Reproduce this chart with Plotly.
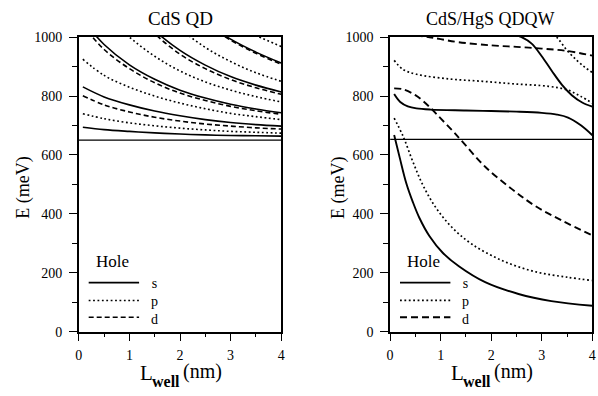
import plotly.graph_objects as go

W, H = 598, 396
FONT = "Liberation Serif"

# ---------------- data: CdS QD (left panel) ----------------
qd_x = [0.08, 0.5, 1.0, 1.5, 2.0, 2.5, 3.0, 3.5, 4.0]
qd_s1 = [694, 686, 680, 675, 671, 668, 666, 665, 664]
qd_p1 = [740, 723, 709, 699, 691, 685, 680, 677, 674]
qd_d1 = [801, 770, 746, 728, 715, 705, 698, 692, 688]
qd_s2 = [831, 797, 770, 749, 733, 720, 710, 703, 698]
qd_p2 = [925, 870, 830, 800, 776, 757, 741, 730, 720]
qd_d2 = [1040, 958, 893, 845, 810, 785, 765, 750, 738]
qd_s3 = [1058, 975, 906, 857, 820, 793, 772, 756, 743]
qd_p3_x = [0.5, 1.0, 1.5, 2.0, 2.5, 3.0, 3.5, 4.0]
qd_p3 = [1080, 1000, 935, 885, 848, 820, 798, 780]
qd_d3_x = [1.0, 1.5, 2.0, 2.5, 3.0, 3.5, 4.0]
qd_d3 = [1105, 1012, 942, 893, 856, 828, 806]
qd_s4_x = [1.0, 1.5, 2.0, 2.5, 3.0, 3.5, 4.0]
qd_s4 = [1111, 1022, 955, 905, 866, 837, 814]
qd_p4_x = [1.5, 2.0, 2.5, 3.0, 3.5, 4.0]
qd_p4 = [1120, 1030, 965, 917, 879, 850]
qd_d4_x = [2.0, 2.5, 3.0, 3.5, 4.0]
qd_d4 = [1115, 1045, 990, 945, 908]
qd_s5_x = [2.0, 2.5, 3.0, 3.5, 4.0]
qd_s5 = [1116, 1048, 993, 949, 912]
qd_p5_x = [2.5, 3.0, 3.5, 4.0]
qd_p5 = [1100, 1050, 1006, 968]
qd_edge_x = [0, 4]
qd_edge = [650, 650]

# ---------------- data: CdS/HgS QDQW (right panel) ----------------
qw_s1_x = [0.08, 0.19, 0.32, 0.45, 0.58, 0.78, 1.04, 1.36, 1.88, 2.54, 3.19, 4.0]
qw_s1 = [668, 591, 504, 440, 386, 324, 268, 222, 168, 128, 104, 88]
qw_p1_x = [0.08, 0.26, 0.45, 0.65, 0.91, 1.23, 1.62, 2.21, 2.86, 3.5, 4.0]
qw_p1 = [725, 662, 577, 497, 420, 353, 297, 242, 204, 185, 174]
qw_d1_x = [0.08, 0.25, 0.5, 0.78, 1.0, 1.23, 1.43, 1.88, 2.41, 2.86, 3.39, 4.0]
qw_d1 = [826, 823, 803, 763, 724, 683, 645, 560, 484, 428, 378, 327]
qw_s2_x = [0.08, 0.2, 0.35, 0.52, 0.8, 1.5, 2.0, 2.5, 3.0, 3.3, 3.52, 3.78, 4.0]
qw_s2 = [807, 780, 765, 758, 754, 751, 749, 747, 743, 737, 727, 700, 667]
qw_p2_x = [0.08, 0.26, 0.52, 1.17, 1.83, 2.47, 3.13, 3.52, 3.78, 4.0]
qw_p2 = [921, 890, 874, 858, 850, 841, 833, 820, 798, 776]
qw_d2_x = [0.5, 0.78, 1.0, 1.35, 2.0, 2.5, 3.0, 3.5, 4.0]
qw_d2 = [1006, 999.5, 993, 983, 972, 967, 961, 953, 937]
qw_s3_x = [2.4, 2.6, 2.8, 3.0, 3.2, 3.4, 3.6, 3.8, 4.0]
qw_s3 = [1010, 1000, 978, 935, 885, 838, 802, 778, 764]
qw_p3_x = [3.1, 3.3, 3.5, 3.7, 3.85, 4.0]
qw_p3 = [1030, 999, 955, 920, 898, 880]
qw_edge_x = [0, 4]
qw_edge = [653, 653]

y_ticks = [0, 200, 400, 600, 800, 1000]
x_ticks = [0, 1, 2, 3, 4]
legend_title = "Hole"
legend_labels = ["s", "p", "d"]

# ---------------- styles ----------------
STY_L = {
    "s": dict(color="black", width=1.6),
    "p": dict(color="black", width=1.6, dash="1.8px,2.6px"),
    "d": dict(color="black", width=1.6, dash="5px,3px"),
}
STY_R = {
    "s": dict(color="black", width=1.9),
    "p": dict(color="black", width=1.7, dash="1.8px,2.6px"),
    "d": dict(color="black", width=1.9, dash="7px,4px"),
}

fig = go.Figure()


def add(x, y, kind, panel):
    sty = STY_L if panel == 1 else STY_R
    fig.add_trace(go.Scatter(
        x=x, y=y, mode="lines", line=dict(shape="spline", smoothing=1.0, **sty[kind]),
        xaxis="x" if panel == 1 else "x2", yaxis="y" if panel == 1 else "y2",
        showlegend=False, hoverinfo="skip"))


# left panel
fig.add_trace(go.Scatter(x=qd_edge_x, y=qd_edge, mode="lines",
                         line=dict(color="black", width=1.3),
                         xaxis="x", yaxis="y", showlegend=False, hoverinfo="skip"))
for yy in (qd_s1, qd_s2, qd_s3):
    add(qd_x, yy, "s", 1)
for yy in (qd_p1, qd_p2):
    add(qd_x, yy, "p", 1)
for yy in (qd_d1, qd_d2):
    add(qd_x, yy, "d", 1)
add(qd_p3_x, qd_p3, "p", 1)
add(qd_d3_x, qd_d3, "d", 1)
add(qd_s4_x, qd_s4, "s", 1)
add(qd_p4_x, qd_p4, "p", 1)
add(qd_d4_x, qd_d4, "d", 1)
add(qd_s5_x, qd_s5, "s", 1)
add(qd_p5_x, qd_p5, "p", 1)

# right panel
fig.add_trace(go.Scatter(x=qw_edge_x, y=qw_edge, mode="lines",
                         line=dict(color="black", width=1.3),
                         xaxis="x2", yaxis="y2", showlegend=False, hoverinfo="skip"))
add(qw_s1_x, qw_s1, "s", 2)
add(qw_p1_x, qw_p1, "p", 2)
add(qw_d1_x, qw_d1, "d", 2)
add(qw_s2_x, qw_s2, "s", 2)
add(qw_p2_x, qw_p2, "p", 2)
add(qw_d2_x, qw_d2, "d", 2)
add(qw_s3_x, qw_s3, "s", 2)
add(qw_p3_x, qw_p3, "p", 2)

# ---------------- layout ----------------
def fx(p):
    return p / W


def fy(p):
    return 1 - p / H


L1, R1 = 76.7, 281.5
L2, R2 = 391.7, 596.3
TOP, BOT = 31.3, 337.5

tickfont = dict(family=FONT, size=14, color="black")
common = dict(showline=True, linecolor="black", linewidth=1.5, mirror=True,
              ticks="outside", ticklen=8, tickwidth=1.3, tickcolor="black",
              showgrid=False, zeroline=False, tickfont=tickfont, fixedrange=True)

xax = dict(range=[0, 4], tickvals=x_ticks, ticklabelstandoff=2,
           minor=dict(dtick=0.5, ticks="outside", ticklen=4, tickwidth=1.1, tickcolor="black", showgrid=False),
           **common)
yax = dict(range=[0, 1000], tickvals=y_ticks, ticklabelstandoff=4,
           minor=dict(dtick=100, ticks="outside", ticklen=5, tickwidth=1.1, tickcolor="black", showgrid=False),
           **common)

fig.update_layout(
    width=W, height=H,
    margin=dict(l=0, r=0, t=0, b=0),
    paper_bgcolor="white", plot_bgcolor="white",
    showlegend=False,
    font=dict(family=FONT, color="black"),
    xaxis=dict(domain=[fx(L1), fx(R1)], anchor="y", **xax),
    yaxis=dict(domain=[fy(BOT), fy(TOP)], anchor="x", **yax),
    xaxis2=dict(domain=[fx(L2), fx(R2)], anchor="y2", **xax),
    yaxis2=dict(domain=[fy(BOT), fy(TOP)], anchor="x2", **yax),
)

annotations = []
shapes = []


def text(px, py, s, size, xanchor="center", angle=0, bold=False):
    annotations.append(dict(
        x=fx(px), y=fy(py), xref="paper", yref="paper", text=("<b>%s</b>" % s) if bold else s,
        showarrow=False, xanchor=xanchor, yanchor="middle", textangle=angle,
        font=dict(family=FONT, size=size, color="black")))


# titles
text(180, 12, "CdS QD", 19)
text(493, 12, "CdS/HgS QDQW", 18)

for A, ycx in ((L1, 21), (L2, 340)):
    sty = STY_L if A == L1 else STY_R
    # y axis title
    text(ycx, 188, "E (meV)", 18, angle=-90)
    # x axis title: L_well (nm)
    text(A + 60, 380, "L", 21, xanchor="left")
    text(A + 72, 389, "well", 16, xanchor="left", bold=True)
    text(A + 103, 379, "(nm)", 20, xanchor="left")
    # legend
    text(A + 34, 264.5, legend_title, 17)
    for (k, yy) in zip(legend_labels, (286.5, 305.0, 322.5)):
        ln = dict(color="black", width=sty[k]["width"])
        if "dash" in sty[k]:
            ln["dash"] = sty[k]["dash"]
        shapes.append(dict(type="line", xref="paper", yref="paper",
                           x0=fx(A + 10), x1=fx(A + 61), y0=fy(yy), y1=fy(yy), line=ln))
    text(A + 71, 306.5, "<br>".join(legend_labels), 14, xanchor="left")

fig.update_layout(annotations=annotations, shapes=shapes)

fig.write_html("out.html")
